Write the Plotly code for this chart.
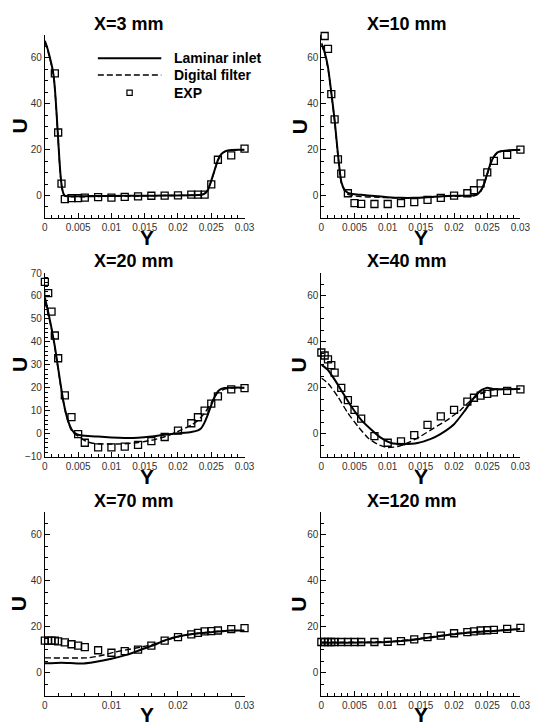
import plotly.graph_objects as go

W, H = 540, 725
OFF = 8  # default page body margin in the browser

titles = ["X=3 mm", "X=10 mm", "X=20 mm", "X=40 mm", "X=70 mm", "X=120 mm"]

# ---------------- X = 3 mm ----------------
exp1_y = [0.0015, 0.002, 0.0025, 0.003, 0.004, 0.005, 0.006, 0.008, 0.01, 0.012, 0.014,
          0.016, 0.018, 0.02, 0.022, 0.023, 0.024, 0.025, 0.026, 0.028, 0.03]
exp1_u = [53.3, 27.5, 5.2, -1.6, -1.1, -1.1, -0.9, -0.7, -0.9, -0.6, -0.4,
          -0.1, 0.0, 0.1, 0.4, 0.4, 0.4, 4.9, 15.6, 17.5, 20.5]
lam1_y = [0, 0.0003, 0.0006, 0.0009, 0.0012, 0.0014, 0.0016, 0.0018, 0.002, 0.0022, 0.0024,
          0.0026, 0.0028, 0.003, 0.004, 0.006, 0.008, 0.01, 0.014, 0.018, 0.022, 0.0235,
          0.024, 0.0245, 0.025, 0.0255, 0.026, 0.0265, 0.027, 0.0275, 0.028, 0.029, 0.03]
lam1_u = [67.5, 65, 62, 58.5, 54.5, 50, 43, 34, 24.5, 15, 7.5,
          3, 0.8, 0, -0.3, -0.3, -0.2, -0.2, -0.1, 0, 0.1, 0.3,
          0.8, 2.5, 6.5, 11, 15.5, 18, 19.2, 19.7, 19.9, 20, 20]
df1_y = lam1_y
df1_u = [67, 64.5, 61.5, 58, 54, 49.5, 42.5, 33.5, 24, 14.5, 7,
         2.5, 0.5, -0.3, -0.5, -0.5, -0.4, -0.3, -0.2, 0, 0.1, 0.3,
         0.7, 2.3, 6.3, 11, 15.3, 17.8, 19, 19.6, 19.8, 19.9, 20]

# ---------------- X = 10 mm ----------------
exp2_y = [0.0005, 0.001, 0.0015, 0.002, 0.0025, 0.003, 0.004, 0.005, 0.006, 0.008, 0.01,
          0.012, 0.014, 0.016, 0.018, 0.02, 0.022, 0.023, 0.024, 0.025, 0.026, 0.028, 0.03]
exp2_u = [69.6, 64.0, 44.2, 33.2, 15.8, 9.6, 1.0, -3.3, -3.6, -3.7, -3.7,
          -3.3, -2.9, -1.9, -1.0, 0.0, 1.0, 2.3, 5.3, 10.1, 15.1, 17.8, 20.0]
lam2_y = [0, 0.0005, 0.001, 0.0015, 0.002, 0.0025, 0.003, 0.0035, 0.004, 0.005, 0.006,
          0.008, 0.01, 0.012, 0.014, 0.016, 0.018, 0.02, 0.022, 0.023, 0.0235, 0.024,
          0.0245, 0.025, 0.0255, 0.026, 0.0265, 0.027, 0.028, 0.029, 0.03]
lam2_u = [66.5, 62.5, 56, 45, 33, 18, 6, 2.5, 1.2, 0.6, 0.3,
          -0.2, -0.7, -1, -1, -0.7, -0.3, -0.1, -0.1, 0.1, 0.6, 2,
          5, 9.5, 14, 17, 18.7, 19.3, 19.7, 19.9, 20.0]
df2_y = lam2_y
df2_u = [66, 62, 55.5, 44.5, 32.5, 17.5, 5.5, 2, 0.5, -0.2, -0.5,
         -0.7, -0.9, -1.1, -1, -0.8, -0.5, -0.3, -0.3, -0.1, 0.4, 1.7,
         4.6, 9.2, 13.7, 16.8, 18.5, 19.2, 19.6, 19.8, 19.9]

# ---------------- X = 20 mm ----------------
exp3_y = [0, 0.0005, 0.001, 0.0015, 0.002, 0.003, 0.004, 0.005, 0.006, 0.008, 0.01,
          0.012, 0.014, 0.016, 0.018, 0.02, 0.022, 0.023, 0.024, 0.025, 0.026, 0.028, 0.03]
exp3_u = [66.1, 61.2, 53.2, 42.8, 32.9, 16.7, 7.3, -0.1, -3.9, -5.9, -5.9,
          -5.6, -4.8, -3.2, -1.4, 1.4, 4.6, 7.2, 10.1, 13.1, 16.3, 19.3, 19.9]
lam3_y = [0, 0.0005, 0.001, 0.0015, 0.002, 0.0025, 0.003, 0.0035, 0.004, 0.0045, 0.005,
          0.006, 0.008, 0.01, 0.012, 0.014, 0.016, 0.018, 0.02, 0.022, 0.023, 0.0235,
          0.024, 0.0245, 0.025, 0.0255, 0.026, 0.0265, 0.027, 0.028, 0.03]
lam3_u = [59.4, 53, 46, 38, 28.5, 19, 11, 5.5, 2, 0.3, -0.4,
          -0.8, -1.2, -1.6, -1.8, -1.7, -1.2, -0.4, 0.2, 0.8, 1.5, 2.5,
          5, 8.5, 12.5, 16, 18.5, 19.6, 20, 20.1, 20.1]
df3_y = [0, 0.0005, 0.001, 0.0015, 0.002, 0.0025, 0.003, 0.0035, 0.004, 0.0045, 0.005,
         0.006, 0.007, 0.008, 0.01, 0.012, 0.014, 0.016, 0.018, 0.02, 0.022, 0.023,
         0.024, 0.025, 0.0255, 0.026, 0.027, 0.028, 0.03]
df3_u = [57.5, 52, 45.5, 37.5, 28, 18.5, 10.5, 5, 1.5, -0.2, -1,
         -3, -4, -4.3, -4.5, -4.3, -3.8, -2.8, -1.3, 1, 3.8, 5.8,
         9, 13.5, 16, 18, 19.5, 19.9, 20]

# ---------------- X = 40 mm ----------------
exp4_y = [0, 0.0005, 0.001, 0.0015, 0.002, 0.003, 0.004, 0.005, 0.006, 0.008, 0.01,
          0.012, 0.014, 0.016, 0.018, 0.02, 0.022, 0.023, 0.024, 0.025, 0.026, 0.028, 0.03]
exp4_u = [35.4, 34.1, 32.4, 29.9, 26.6, 20.0, 14.7, 10.4, 6.6, -1.0, -3.9,
          -3.3, -0.6, 3.9, 7.6, 10.4, 14.0, 15.7, 16.6, 17.4, 18.0, 18.7, 19.3]
lam4_y = [0, 0.001, 0.002, 0.003, 0.0045, 0.006, 0.0075, 0.009, 0.0105, 0.0125, 0.0145,
          0.0165, 0.018, 0.02, 0.0215, 0.023, 0.024, 0.025, 0.026, 0.028, 0.03]
lam4_u = [30.1, 27.8, 23.6, 19, 12, 6.1, 1.9, -1.8, -4, -4.4, -4,
          -2.2, 0, 4.2, 9.6, 15.7, 18.8, 20.1, 19.4, 19.4, 19.6]
df4_y = [0, 0.001, 0.0025, 0.004, 0.0055, 0.007, 0.0085, 0.01, 0.0115, 0.013, 0.015,
         0.017, 0.019, 0.021, 0.0225, 0.024, 0.0255, 0.028, 0.03]
df4_u = [24.3, 22, 16.1, 9, 3.3, -1.7, -4.6, -6, -5.6, -4, -1,
         2.6, 6.1, 10.4, 14.5, 17.4, 19, 19.4, 19.6]

# ---------------- X = 70 mm ----------------
exp5_y = [0, 0.0005, 0.001, 0.0015, 0.002, 0.003, 0.004, 0.005, 0.006, 0.008, 0.01,
          0.012, 0.014, 0.016, 0.018, 0.02, 0.022, 0.023, 0.024, 0.025, 0.026, 0.028, 0.03]
exp5_u = [13.9, 13.9, 13.9, 13.9, 13.6, 13.1, 12.3, 11.7, 11.1, 9.7, 8.6,
          9.3, 10.0, 11.7, 13.9, 15.4, 16.6, 17.3, 17.9, 18.0, 18.3, 18.9, 19.3]
lam5_y = [0, 0.0025, 0.0055, 0.0075, 0.01, 0.0125, 0.0145, 0.0165, 0.018, 0.0205,
          0.023, 0.0255, 0.028, 0.03]
lam5_u = [4.0, 4.3, 3.9, 4.6, 6, 7.9, 10, 12.1, 14, 16,
          17.1, 17.7, 18.3, 18.3]
df5_y = [0, 0.0065, 0.0085, 0.0105, 0.0125, 0.0145, 0.0165, 0.0185, 0.0205, 0.023,
         0.0255, 0.028, 0.03]
df5_u = [6.4, 6.4, 7.4, 8.9, 10, 11.1, 12.4, 14.3, 15.9, 17,
         17.9, 18.3, 18.1]

# ---------------- X = 120 mm ----------------
exp6_y = [0, 0.0005, 0.001, 0.0015, 0.002, 0.003, 0.004, 0.005, 0.006, 0.008, 0.01,
          0.012, 0.014, 0.016, 0.018, 0.02, 0.022, 0.023, 0.024, 0.025, 0.026, 0.028, 0.03]
exp6_u = [13.3, 13.3, 13.3, 13.3, 13.3, 13.3, 13.3, 13.3, 13.3, 13.3, 13.4,
          13.7, 14.4, 15.4, 16.1, 17.1, 17.6, 17.9, 18.3, 18.4, 18.6, 19.0, 19.4]
lam6_y = [0, 0.004, 0.008, 0.01, 0.012, 0.014, 0.016, 0.018, 0.02, 0.022, 0.024,
          0.026, 0.028, 0.03]
lam6_u = [13.0, 13.0, 13.1, 13.3, 13.7, 14.3, 15.1, 15.9, 16.7, 17.3, 17.8,
          18.1, 18.5, 19.0]
df6_y = lam6_y
df6_u = [13.2, 13.2, 13.3, 13.5, 13.9, 14.5, 15.3, 16.1, 16.9, 17.4, 17.9,
         18.2, 18.6, 19.1]

panels = [
    (exp1_y, exp1_u, lam1_y, lam1_u, df1_y, df1_u),
    (exp2_y, exp2_u, lam2_y, lam2_u, df2_y, df2_u),
    (exp3_y, exp3_u, lam3_y, lam3_u, df3_y, df3_u),
    (exp4_y, exp4_u, lam4_y, lam4_u, df4_y, df4_u),
    (exp5_y, exp5_u, lam5_y, lam5_u, df5_y, df5_u),
    (exp6_y, exp6_u, lam6_y, lam6_u, df6_y, df6_u),
]
legend_labels = ["Laminar inlet", "Digital filter", "EXP"]

# ---------------- layout geometry (window pixels) ----------------
col_px = [(42.7, 247.3), (326.0, 530.0)]
row_px = [(29.4, 215.6), (271.0, 457.6), (513.4, 700.0)]
title_x = [91, 371]
title_y = [18.5, 258.5, 502]
ulabel_x = [16.5, 303]
ulabel_y = [122, 364, 607]
ylabel_x = [147, 428]
ylabel_y = [235, 478, 719]


def fx(p):
    return (p - OFF) / W


def fy(p):
    return 1 - (p - OFF) / H


FONT = "Liberation Sans, Arial, Helvetica, sans-serif"

fig = go.Figure()
layout = dict(
    width=W, height=H, margin=dict(l=0, r=0, t=0, b=0),
    paper_bgcolor="white", plot_bgcolor="white", showlegend=False,
    annotations=[], shapes=[],
)

for i, (ey, eu, ly, lu, dy, du) in enumerate(panels):
    r, c = divmod(i, 2)
    n = "" if i == 0 else str(i + 1)
    xa, ya = "x" + n, "y" + n
    fig.add_trace(go.Scatter(x=ly, y=lu, mode="lines", xaxis=xa, yaxis=ya,
                             line=dict(color="black", width=2, shape="spline", smoothing=0.5),
                             name=legend_labels[0]))
    fig.add_trace(go.Scatter(x=dy, y=du, mode="lines", xaxis=xa, yaxis=ya,
                             line=dict(color="black", width=1.4, dash="6px,3px",
                                       shape="spline", smoothing=0.5),
                             name=legend_labels[1]))
    fig.add_trace(go.Scatter(x=ey, y=eu, mode="markers", xaxis=xa, yaxis=ya, cliponaxis=False,
                             marker=dict(symbol="square-open", size=7,
                                         color="black", line=dict(color="black", width=1.3)),
                             name=legend_labels[2]))
    x0, x1 = col_px[c]
    ytop, ybot = row_px[r]
    xdt = 0.01 if i == 4 else 0.005
    xminor = 0.002 if i == 4 else 0.001
    ydt = 10 if i == 2 else 20
    yminor = 2 if i == 2 else 5
    layout["xaxis" + n] = dict(
        domain=[fx(x0), fx(x1)], anchor=ya, range=[0, 0.03],
        tick0=0, dtick=xdt, showline=True, linecolor="black", linewidth=1,
        ticks="inside", ticklen=5, tickwidth=1, tickcolor="black",
        minor=dict(dtick=xminor, tick0=0, ticks="inside", ticklen=3, tickcolor="black"),
        showgrid=False, zeroline=False,
        tickfont=dict(family=FONT, size=10, color="#333"),
    )
    layout["yaxis" + n] = dict(
        domain=[fy(ybot), fy(ytop)], anchor=xa, range=[-10, 70],
        tick0=0, dtick=ydt, showline=True, linecolor="black", linewidth=1,
        ticks="inside", ticklen=5, tickwidth=1, tickcolor="black",
        minor=dict(dtick=yminor, tick0=0, ticks="inside", ticklen=3, tickcolor="black"),
        showgrid=False, zeroline=False,
        tickfont=dict(family=FONT, size=10, color="#333"),
    )
    layout["annotations"].append(dict(
        text=titles[i], xref="paper", yref="paper", x=fx(title_x[c]), y=fy(title_y[r]),
        xanchor="left", yanchor="middle", showarrow=False,
        font=dict(family=FONT, size=18, color="black", weight="bold")))
    layout["annotations"].append(dict(
        text="U", xref="paper", yref="paper", x=fx(ulabel_x[c]), y=fy(ulabel_y[r]),
        xanchor="center", yanchor="middle", showarrow=False, textangle=-90,
        font=dict(family=FONT, size=21, color="black", weight="bold")))
    layout["annotations"].append(dict(
        text="Y", xref="paper", yref="paper", x=fx(ylabel_x[c]), y=fy(ylabel_y[r]),
        xanchor="center", yanchor="middle", showarrow=False,
        font=dict(family=FONT, size=21, color="black", weight="bold")))

# ---------------- custom legend in first panel ----------------
leg_x0, leg_x1, leg_tx = 97, 162, 173
leg_rows = [53, 70, 88]
layout["shapes"].append(dict(type="line", xref="paper", yref="paper",
                             x0=fx(leg_x0), x1=fx(leg_x1), y0=fy(leg_rows[0]), y1=fy(leg_rows[0]),
                             line=dict(color="black", width=2)))
layout["shapes"].append(dict(type="line", xref="paper", yref="paper",
                             x0=fx(leg_x0), x1=fx(leg_x1), y0=fy(leg_rows[1]), y1=fy(leg_rows[1]),
                             line=dict(color="black", width=1.4, dash="6px,3px")))
cx = (leg_x0 + leg_x1) / 2
layout["shapes"].append(dict(type="rect", xref="paper", yref="paper",
                             x0=fx(cx - 2.7), x1=fx(cx + 2.7),
                             y0=fy(leg_rows[2] + 2.7), y1=fy(leg_rows[2] - 2.7),
                             line=dict(color="black", width=1.2)))
for lbl, ry in zip(legend_labels, leg_rows):
    layout["annotations"].append(dict(
        text=lbl, xref="paper", yref="paper", x=fx(leg_tx), y=fy(ry),
        xanchor="left", yanchor="middle", showarrow=False,
        font=dict(family=FONT, size=14, color="black", weight="bold")))

fig.update_layout(**layout)
fig.write_html("out.html")
